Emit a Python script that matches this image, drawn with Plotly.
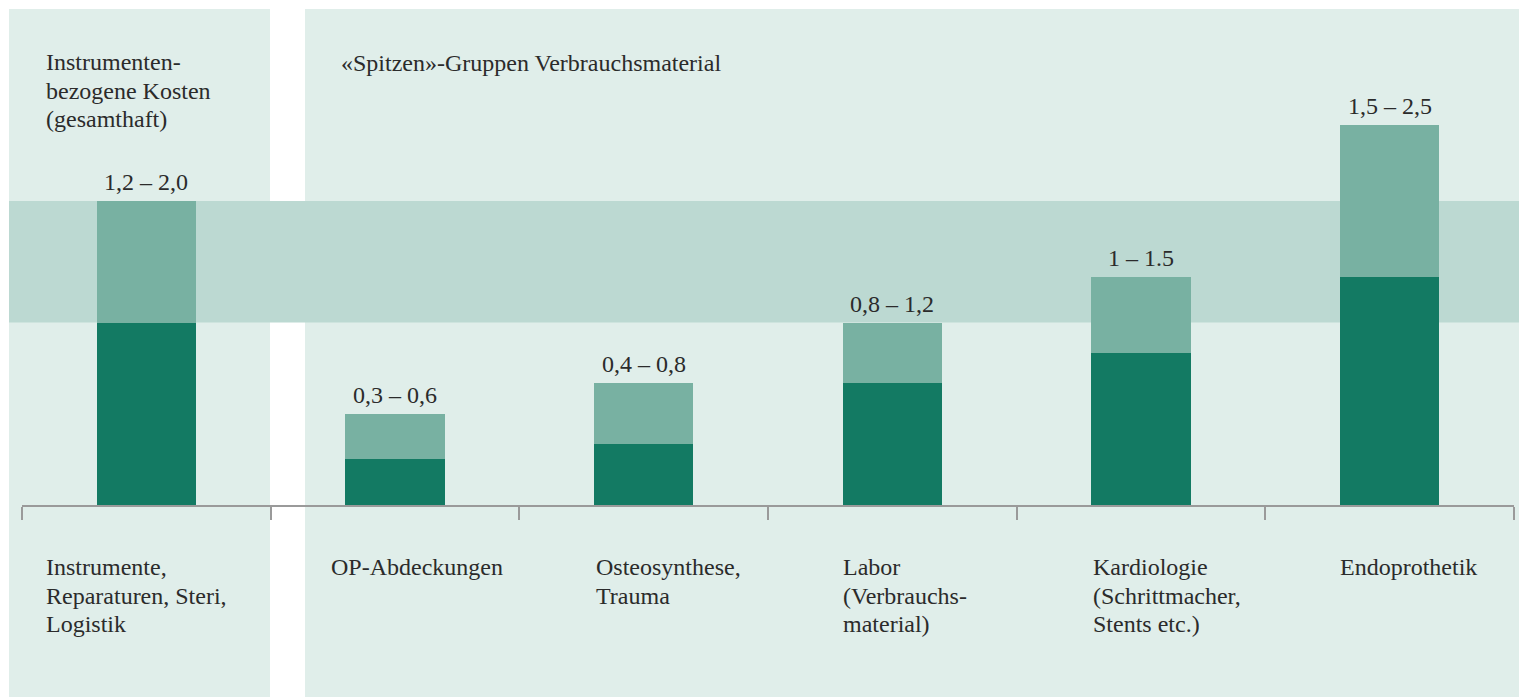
import plotly.graph_objects as go

# ---------------- data ----------------
keys = ["Instrumente", "OP", "Osteo", "Labor", "Kardio", "Endo"]
category_labels = [
    "Instrumente,\nReparaturen, Steri,\nLogistik",
    "OP-Abdeckungen",
    "Osteosynthese,\nTrauma",
    "Labor\n(Verbrauchs-\nmaterial)",
    "Kardiologie\n(Schrittmacher,\nStents etc.)",
    "Endoprothetik",
]
low = [1.2, 0.3, 0.4, 0.8, 1.0, 1.5]
high = [2.0, 0.6, 0.8, 1.2, 1.5, 2.5]
range_labels = ["1,2 – 2,0", "0,3 – 0,6", "0,4 – 0,8", "0,8 – 1,2", "1 – 1.5", "1,5 – 2,5"]
band = [1.2, 2.0]
left_title = "Instrumenten-\nbezogene Kosten\n(gesamthaft)"
right_title = "«Spitzen»-Gruppen Verbrauchsmaterial"

# ---------------- style ----------------
DARK = "#137a63"
LIGHT = "#78b1a2"
PANEL = "#e0eeea"
BAND = "#bcd9d2"
AXIS = "#9a9a9a"
TEXT = "#2b2b2b"
FONT = "Liberation Serif, DejaVu Serif, serif"
FS = 24
LINE = 28.5
W, H = 1522, 697
ML, MR, MT, MB = 22, 8, 9, 192
YMAX = (H - MT - MB) / 152.0
label_xshift = [-102, -66, -50, -51, -50, -52]

fig = go.Figure()
fig.add_bar(x=keys, y=low, marker=dict(color=DARK, line=dict(width=0)),
            width=0.4, hoverinfo="skip", showlegend=False)
fig.add_bar(x=keys, y=[h - l for h, l in zip(high, low)],
            marker=dict(color=LIGHT, line=dict(width=0)),
            width=0.4, hoverinfo="skip", showlegend=False)

pw = W - ML - MR
def px2paper_x(p):
    return (p - ML) / pw

shapes = [
    dict(type="rect", xref="paper", yref="paper", x0=px2paper_x(9), x1=px2paper_x(270),
         y0=-0.45, y1=1, fillcolor=PANEL, line=dict(width=0), layer="below"),
    dict(type="rect", xref="paper", yref="paper", x0=px2paper_x(305), x1=px2paper_x(1519),
         y0=-0.45, y1=1, fillcolor=PANEL, line=dict(width=0), layer="below"),
    dict(type="rect", xref="paper", yref="paper", x0=px2paper_x(9), x1=px2paper_x(1519),
         y0=band[0] / YMAX, y1=band[1] / YMAX, fillcolor=BAND, line=dict(width=0), layer="below"),
]

ann = []
font = dict(family=FONT, size=FS, color=TEXT)
# value labels
for k, h, t in zip(keys, high, range_labels):
    ann.append(dict(x=k, y=h, xref="x", yref="y", text=t, showarrow=False,
                    xanchor="center", yanchor="middle", yshift=19, font=font))
# category labels
for k, lab, xs in zip(keys, category_labels, label_xshift):
    for j, line in enumerate(lab.split("\n")):
        ann.append(dict(x=k, y=0, xref="x", yref="y", text=line, showarrow=False,
                        xanchor="left", yanchor="middle", xshift=xs,
                        yshift=-(62 + LINE * j), font=font))
# titles
for j, line in enumerate(left_title.split("\n")):
    ann.append(dict(x=keys[0], y=1, xref="x", yref="paper", text=line, showarrow=False,
                    xanchor="left", yanchor="middle", xshift=-102,
                    yshift=-(53 + LINE * j), font=font))
ann.append(dict(x=keys[1], y=1, xref="x", yref="paper", text=right_title, showarrow=False,
                xanchor="left", yanchor="middle", xshift=-56, yshift=-54, font=font))

fig.update_layout(
    width=W, height=H,
    margin=dict(l=ML, r=MR, t=MT, b=MB, pad=0),
    paper_bgcolor="white", plot_bgcolor="rgba(0,0,0,0)",
    barmode="stack", bargap=0.6,
    shapes=shapes, annotations=ann,
    xaxis=dict(type="category", range=[-0.5, 5.5], showline=True, linecolor=AXIS,
               linewidth=1.5, ticks="outside", tickson="boundaries", ticklen=13,
               tickwidth=1.5, tickcolor=AXIS, showticklabels=False, showgrid=False,
               zeroline=False, fixedrange=True),
    yaxis=dict(range=[0, YMAX], visible=False, showgrid=False, zeroline=False, fixedrange=True),
    font=font,
)

fig.write_html("out.html", config={"displayModeBar": False},
               post_script="document.body.style.margin='0';document.body.style.overflow='hidden';")
